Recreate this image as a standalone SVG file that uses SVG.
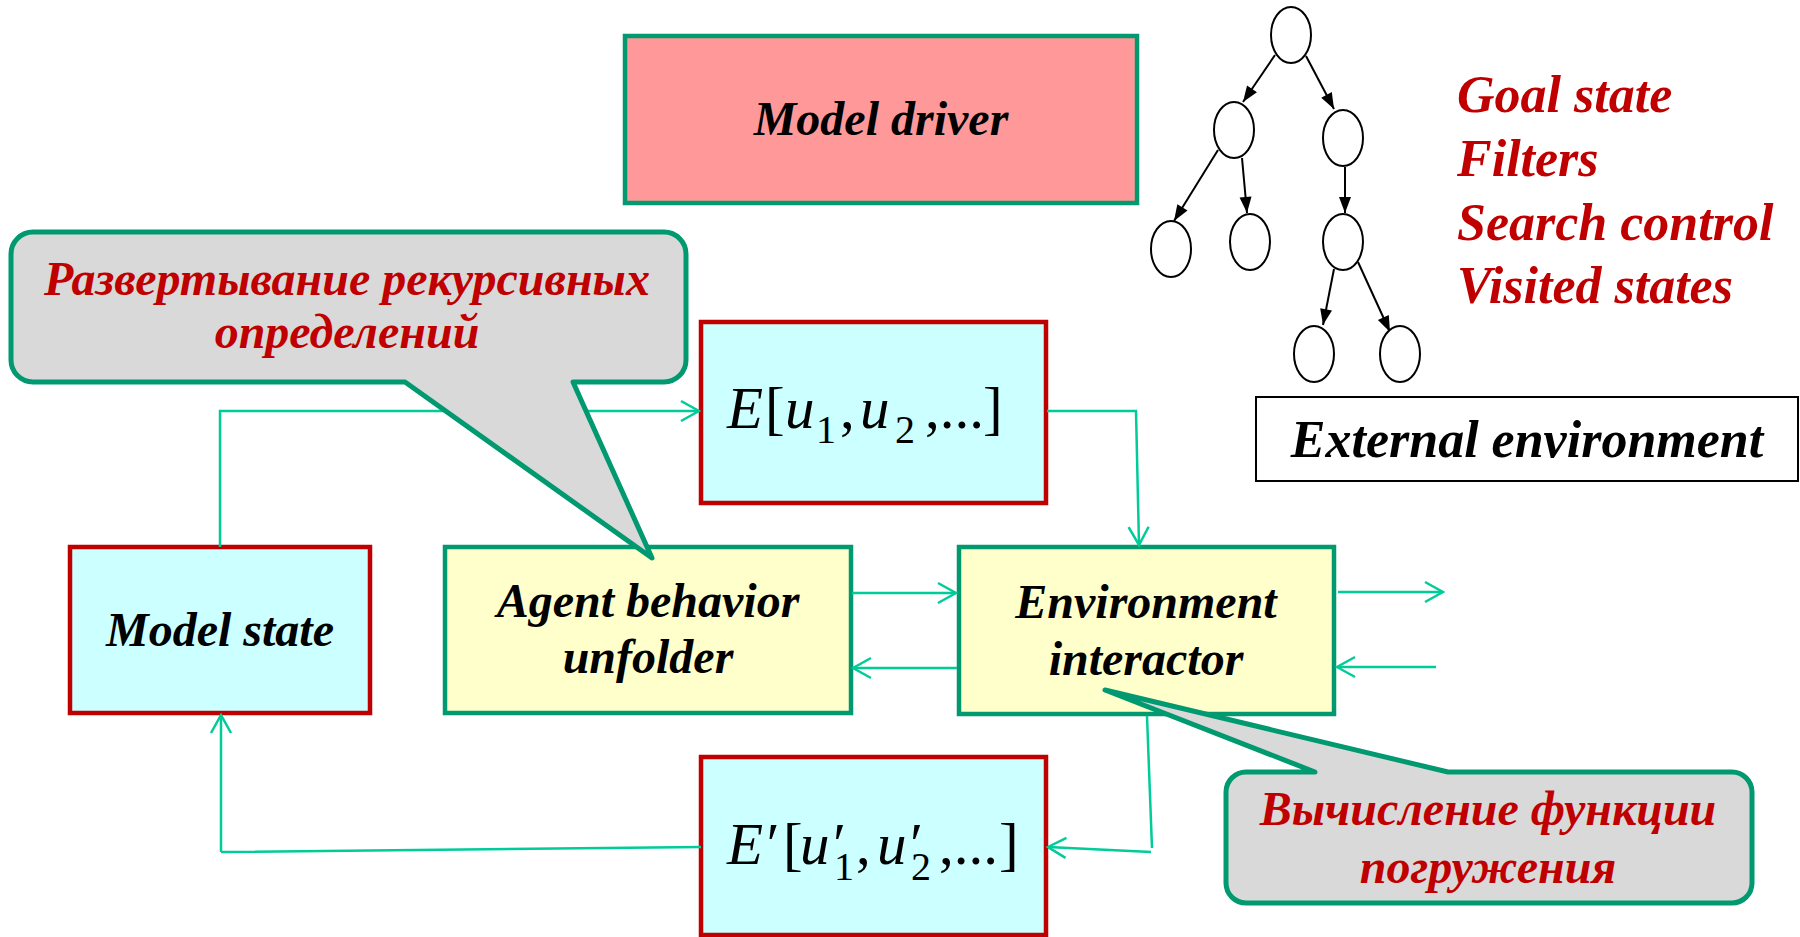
<svg xmlns="http://www.w3.org/2000/svg" width="1800" height="937" viewBox="0 0 1800 937">
  <style>
    .lbl { font-family: "Liberation Serif", "Times New Roman", serif; font-weight: bold; font-style: italic; fill: #000000; }
    .red { font-family: "Liberation Serif", "Times New Roman", serif; font-weight: bold; font-style: italic; fill: #C00000; }
    .math { font-family: "Liberation Serif", "Times New Roman", "DejaVu Serif", serif; fill: #000000; font-size: 59px; }
    .it { font-style: italic; }
    .sub { font-size: 40px; }
    .cyan { fill: #CCFFFF; stroke: #C00000; stroke-width: 4.5; }
    .yellow { fill: #FFFFCC; stroke: #009970; stroke-width: 4.5; }
    .pink { fill: #FF9999; stroke: #009970; stroke-width: 4.5; }
    .callout { fill: #D9D9D9; stroke: #009970; stroke-width: 5; stroke-linejoin: round; }
    .link { fill: none; stroke: #00CC99; stroke-width: 2.5; }
    .tree-node { fill: #FFFFFF; stroke: #000000; stroke-width: 2; }
    .tree-edge { stroke: #000000; stroke-width: 2; fill: none; }
  </style>
  <defs>
    <marker id="openArrow" markerUnits="userSpaceOnUse" viewBox="-21 -12 23 24" refX="0" refY="0" markerWidth="23" markerHeight="24" orient="auto">
      <path d="M-18,-10 L0,0 L-18,10" fill="none" stroke="#00CC99" stroke-width="2.5"/>
    </marker>
    <marker id="solidArrow" markerUnits="userSpaceOnUse" viewBox="-17 -7 18 14" refX="0" refY="0" markerWidth="18" markerHeight="14" orient="auto">
      <path d="M-16,-6 L0,0 L-16,6 Z" fill="#000000"/>
    </marker>
  </defs>

  <rect width="1800" height="937" fill="#FFFFFF"/>

  <!-- main blocks -->
  <g id="model-driver">
    <rect class="pink" x="625" y="36" width="512" height="167"/>
    <text class="lbl" x="881" y="135" font-size="48" text-anchor="middle">Model driver</text>
  </g>

  <g id="model-state">
    <rect class="cyan" x="70" y="547" width="300" height="166"/>
    <text class="lbl" x="220" y="646" font-size="48" text-anchor="middle">Model state</text>
  </g>

  <g id="agent-behavior-unfolder">
    <rect class="yellow" x="445" y="547" width="406" height="166"/>
    <text class="lbl" x="648" y="617" font-size="48" text-anchor="middle">Agent behavior</text>
    <text class="lbl" x="648" y="673" font-size="48" text-anchor="middle">unfolder</text>
  </g>

  <g id="environment-interactor">
    <rect class="yellow" x="959" y="547" width="375" height="167"/>
    <text class="lbl" x="1146" y="618" font-size="48" text-anchor="middle">Environment</text>
    <text class="lbl" x="1146" y="675" font-size="48" text-anchor="middle">interactor</text>
  </g>

  <g id="expression-e">
    <rect class="cyan" x="701" y="322" width="345" height="181"/>
    <text class="math">
      <tspan class="it" x="727" y="428">E</tspan>
      <tspan x="765" y="428">[</tspan>
      <tspan class="it" x="785" y="428">u</tspan>
      <tspan class="sub" x="816" y="443">1</tspan>
      <tspan x="840" y="428">,</tspan>
      <tspan class="it" x="860" y="428">u</tspan>
      <tspan class="sub" x="895" y="443">2</tspan>
      <tspan x="925" y="428">,...</tspan>
      <tspan x="983" y="428">]</tspan>
    </text>
  </g>

  <g id="expression-e-prime">
    <rect class="cyan" x="701" y="757" width="345" height="178"/>
    <text class="math">
      <tspan class="it" x="727" y="864">E′</tspan>
      <tspan x="783" y="864">[</tspan>
      <tspan class="it" x="800" y="864">u′</tspan>
      <tspan class="sub" x="834" y="880">1</tspan>
      <tspan x="856" y="864">,</tspan>
      <tspan class="it" x="877" y="864">u′</tspan>
      <tspan class="sub" x="911" y="880">2</tspan>
      <tspan x="939" y="864">,...</tspan>
      <tspan x="999" y="864">]</tspan>
    </text>
  </g>

  <g id="external-environment">
    <rect x="1256" y="397" width="542" height="84" fill="#FFFFFF" stroke="#000000" stroke-width="2"/>
    <text class="lbl" x="1527" y="457" font-size="52" text-anchor="middle">External environment</text>
  </g>

  <!-- search tree -->
  <g id="search-tree">
    <g class="tree-edge" marker-end="url(#solidArrow)">
      <line x1="1275" y1="55" x2="1243" y2="102"/>
      <line x1="1306" y1="56" x2="1334" y2="109"/>
      <line x1="1218" y1="150" x2="1174" y2="221"/>
      <line x1="1242" y1="158" x2="1247" y2="213"/>
      <line x1="1345" y1="167" x2="1345" y2="213"/>
      <line x1="1334" y1="269" x2="1323" y2="325"/>
      <line x1="1358" y1="262" x2="1390" y2="332"/>
    </g>
    <ellipse class="tree-node" cx="1291" cy="35" rx="20" ry="28"/>
    <ellipse class="tree-node" cx="1234" cy="130" rx="20" ry="28"/>
    <ellipse class="tree-node" cx="1343" cy="138" rx="20" ry="28"/>
    <ellipse class="tree-node" cx="1171" cy="249" rx="20" ry="28"/>
    <ellipse class="tree-node" cx="1250" cy="242" rx="20" ry="28"/>
    <ellipse class="tree-node" cx="1343" cy="242" rx="20" ry="28"/>
    <ellipse class="tree-node" cx="1314" cy="354" rx="20" ry="28"/>
    <ellipse class="tree-node" cx="1400" cy="354" rx="20" ry="28"/>
  </g>

  <g id="search-parameters">
    <text class="red" x="1457" y="112" font-size="52">Goal state</text>
    <text class="red" x="1457" y="176" font-size="52">Filters</text>
    <text class="red" x="1457" y="240" font-size="52">Search control</text>
    <text class="red" x="1457" y="303" font-size="52">Visited states</text>
  </g>

  <!-- connectors -->
  <g id="connectors" class="link" marker-end="url(#openArrow)">
    <path d="M220,547 V411 H699"/>
    <path d="M1047,411 H1136 L1139,545"/>
    <path d="M852,593 H956"/>
    <path d="M957,668 H853"/>
    <path d="M1338,592 H1443"/>
    <path d="M1436,667 H1337"/>
    <path d="M1147,716 L1152,848 M1151,852 L1048,847"/>
    <path d="M701,847 L221,852 M221,852 L221,715"/>
  </g>

  <!-- speech callouts -->
  <g id="callout-unfolding">
    <path class="callout" d="M33,232 H664 A22,22 0 0 1 686,254 V360 A22,22 0 0 1 664,382 H573 L652,558 L405,382 H33 A22,22 0 0 1 11,360 V254 A22,22 0 0 1 33,232 Z"/>
    <text class="red" x="347" y="295" font-size="48" text-anchor="middle">Развертывание рекурсивных</text>
    <text class="red" x="347" y="348" font-size="48" text-anchor="middle">определений</text>
  </g>

  <g id="callout-immersion">
    <path class="callout" d="M1246,772 H1315 L1105,690 L1448,772 H1732 A20,20 0 0 1 1752,792 V883 A20,20 0 0 1 1732,903 H1246 A20,20 0 0 1 1226,883 V792 A20,20 0 0 1 1246,772 Z"/>
    <text class="red" x="1488" y="825" font-size="48" text-anchor="middle">Вычисление функции</text>
    <text class="red" x="1488" y="883" font-size="48" text-anchor="middle">погружения</text>
  </g>
</svg>
